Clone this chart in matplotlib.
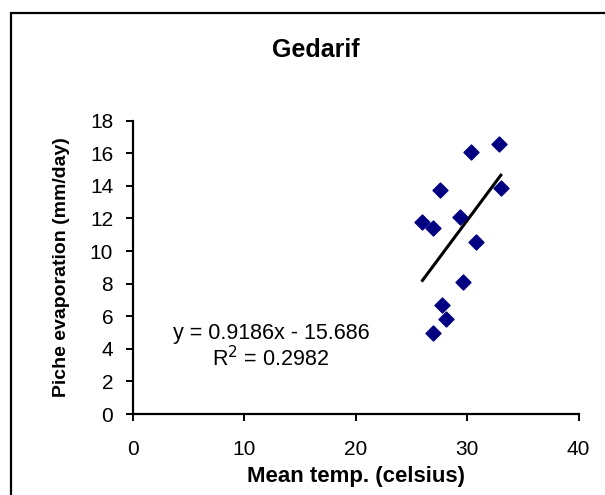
import matplotlib
matplotlib.use("Agg")
import matplotlib.pyplot as plt
from matplotlib.patches import Rectangle
import numpy as np

plt.rcParams['font.family'] = ['Liberation Sans', 'DejaVu Sans']

title = "Gedarif"
x_label = "Mean temp. (celsius)"
y_label = "Piche evaporation (mm/day)"

mean_temp = [30.34, 32.86, 27.53, 33.03, 26.00, 26.96, 29.38, 30.76, 29.62, 27.71, 28.13, 26.96]
evaporation = [16.06, 16.56, 13.74, 13.85, 11.80, 11.43, 12.07, 10.57, 8.10, 6.67, 5.81, 4.95]

slope = 0.9186
intercept = -15.686
r_squared = 0.2982

x_ticks = [0, 10, 20, 30, 40]
y_ticks = [0, 2, 4, 6, 8, 10, 12, 14, 16, 18]

fig = plt.figure(figsize=(6.05, 4.95), dpi=100)
ax = fig.add_axes([0.2193, 0.1636, 0.7369, 0.5925])

# outer chart border
fig.patches.append(Rectangle((11 / 605, -0.1), 1.2, 1 - 13 / 495 + 0.1,
                             transform=fig.transFigure, fill=False,
                             edgecolor='black', linewidth=1.6))

ax.scatter(mean_temp, evaporation, marker='D', s=58, color='#000080',
           edgecolors='#000080', zorder=3)

xs = np.array([min(mean_temp), max(mean_temp)])
ax.plot(xs, slope * xs + intercept, color='black', linewidth=2.2, zorder=2)

ax.set_xlim(0, 40)
ax.set_ylim(0, 18)
ax.set_xticks(x_ticks)
ax.set_yticks(y_ticks)
ax.spines['top'].set_visible(False)
ax.spines['right'].set_visible(False)
for s in ('left', 'bottom'):
    ax.spines[s].set_linewidth(1.6)
ax.tick_params(axis='both', direction='out', length=5, width=1.4,
               labelsize=15)
ax.tick_params(axis='y', pad=9)
ax.tick_params(axis='x', pad=14)

ax.set_xlabel(x_label, fontsize=16, fontweight='bold', labelpad=5)
ax.set_ylabel(y_label, fontsize=14, fontweight='bold', labelpad=14)
fig.text(0.522, 0.899, title, fontsize=18, fontweight='bold',
         ha='center', va='center')

ax.text(12.4, 4.6, f"y = {slope}x - {abs(intercept)}", fontsize=15.5,
        ha='center', va='baseline')
ax.text(12.4, 2.95, f"R$^2$ = {r_squared}", fontsize=15.5,
        ha='center', va='baseline')

fig.savefig("out.png", dpi=100)
